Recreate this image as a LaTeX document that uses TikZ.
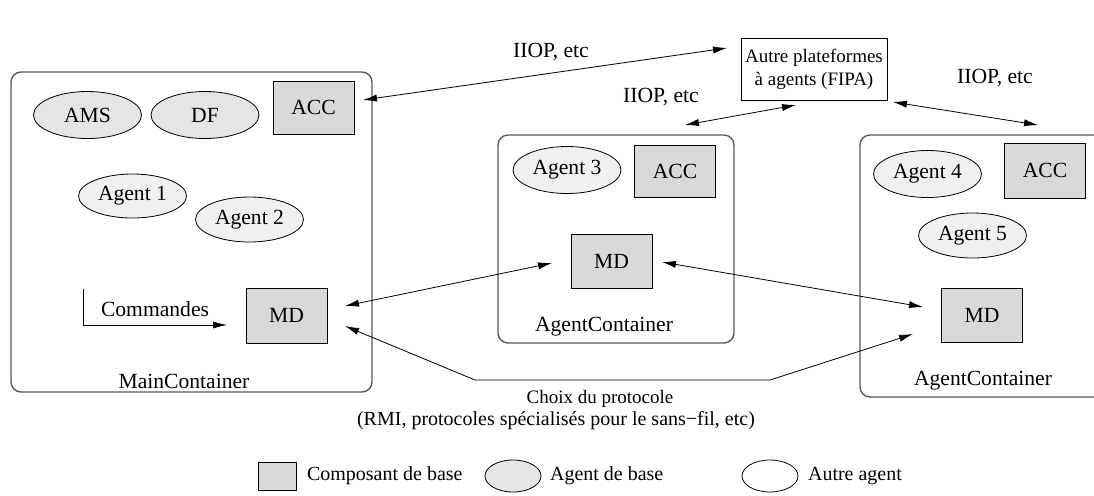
\documentclass[tikz,border=0pt]{standalone}
\usepackage{fontspec}
\setmainfont{Liberation Serif}
\usetikzlibrary{shapes.geometric}
\usetikzlibrary{arrows.meta}

\def\px{0.5pt}
\definecolor{compgray}{gray}{0.85}
\definecolor{basegray}{gray}{0.90}
\definecolor{othergray}{gray}{0.94}

\tikzset{
  comp/.style={draw, fill=compgray, inner sep=0pt, minimum width=81*\px, minimum height=54*\px},
  baseag/.style={ellipse, draw, fill=basegray, inner sep=0pt, minimum width=108*\px, minimum height=47*\px},
  otherag/.style={baseag, fill=othergray},
  container/.style={draw=black!65, line width=0.7pt, rounded corners=5pt, inner sep=0pt},
  small/.style={font=\fontsize{9.5}{11.5}\selectfont},
  legtext/.style={font=\fontsize{10}{12}\selectfont},
  link/.style={{Latex[length=7pt,width=3.6pt]}-{Latex[length=7pt,width=3.6pt]}},
  tolink/.style={-{Latex[length=7pt,width=3.6pt]}},
}

\begin{document}
\begin{tikzpicture}[x=\px, y=-\px, font=\fontsize{10.8}{13}\selectfont]
\useasboundingbox (0,0) rectangle (1094,495);

% containers
\node[container, minimum width=361*\px, minimum height=320*\px] (mainC) at (191.5,232) {};
\node[container, minimum width=236*\px, minimum height=208*\px] (agC1) at (616,239) {};
\node[container, minimum width=244*\px, minimum height=262*\px] (agC2) at (982,266) {};
\node (mainL) at (184,381) {MainContainer};
\node (agL1) at (604,327) {AgentContainer};
\node (agL2) at (983,381) {AgentContainer};

% main container
\node[baseag] (ams) at (87.5,115) {AMS};
\node[baseag] (df) at (205,115) {DF};
\node[comp, minimum height=53*\px] (accM) at (313.5,107.5) {ACC};
\node[otherag, minimum height=44*\px] (ag1) at (132.5,196) {Agent 1};
\node[otherag, minimum height=45*\px] (ag2) at (249.5,219.5) {Agent 2};
\node[comp, minimum height=55*\px] (mdM) at (286.5,315.5) {MD};

% agent container 1
\node[otherag] (ag3) at (567,170) {Agent 3};
\node[comp, minimum height=52*\px] (acc1) at (675,171) {ACC};
\node[comp] (md1) at (611.5,261) {MD};

% agent container 2
\node[otherag] (ag4) at (927.5,174) {Agent 4};
\node[comp, minimum height=55*\px] (acc2) at (1045,170.5) {ACC};
\node[otherag, minimum height=45*\px] (ag5) at (972.5,235.5) {Agent 5};
\node[comp] (md2) at (982,315) {MD};

% other platforms
\node[draw, fill=white, small, align=center, inner sep=0pt, minimum width=146*\px, minimum height=62*\px] (fipa) at (814,69) {Autre plateformes\\à agents (FIPA)};

% arrow ends
\coordinate (accM-o) at (363,100);
\coordinate (fipa-w) at (727,48);
\coordinate (agC1-n) at (685,125);
\coordinate (fipa-s) at (796,105);
\coordinate (fipa-se) at (893,102);
\coordinate (agC2-n) at (1038,125);
\coordinate (mdM-a) at (345,306);
\coordinate (mdM-b) at (345,326);
\coordinate (md1-w) at (552,263);
\coordinate (md1-e) at (662,262);
\coordinate (md2-a) at (923,307);
\coordinate (md2-b) at (913,334);
\coordinate (rmiL) at (475,380);
\coordinate (rmiR) at (770,380);
\coordinate (cmdTop) at (83,289);
\coordinate (cmdEnd) at (227,325);

\draw[link] (accM-o) -- (fipa-w);
\draw[link] (agC1-n) -- (fipa-s);
\draw[link] (fipa-se) -- (agC2-n);
\draw[link] (mdM-a) -- (md1-w);
\draw[link] (md1-e) -- (md2-a);
\draw[link] (mdM-b) -- (rmiL) -- (rmiR) -- (md2-b);
\draw[tolink] (cmdTop) |- (cmdEnd);

\node (iiop1) at (551,52) {IIOP, etc};
\node (iiop2) at (661,97) {IIOP, etc};
\node (iiop3) at (995,78) {IIOP, etc};
\node (cmd) at (155,309) {Commandes};
\node[small] (choix) at (600,399) {Choix du protocole};
\node[legtext] (rmi) at (556,421) {(RMI, protocoles spécialisés pour le sans−fil, etc)};

% legend
\node[comp, minimum width=38*\px, minimum height=28*\px] (legC) at (277,476) {};
\node[legtext, anchor=west] (legCt) at (300,476) {Composant de base};
\node[baseag, minimum width=56*\px, minimum height=32*\px] (legB) at (513,476) {};
\node[legtext, anchor=west] (legBt) at (543,476) {Agent de base};
\node[otherag, fill=white, minimum width=56*\px, minimum height=32*\px] (legO) at (770,476) {};
\node[legtext, anchor=west] (legOt) at (801,476) {Autre agent};
\end{tikzpicture}
\end{document}
